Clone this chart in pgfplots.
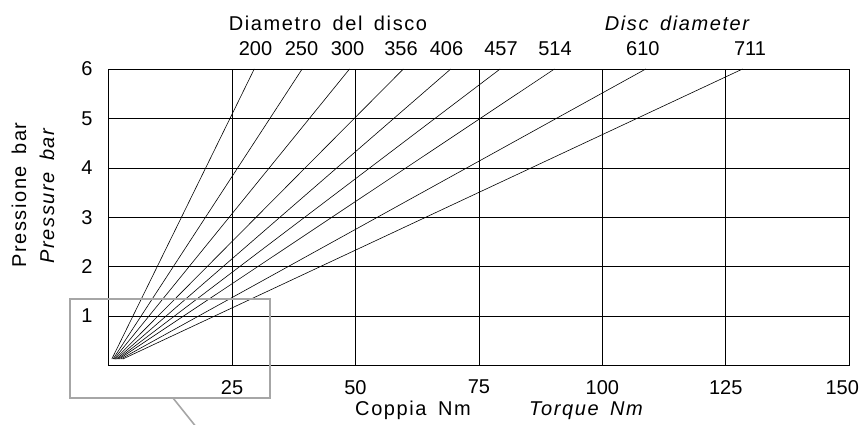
\documentclass[border=0pt]{standalone}
\usepackage{fontspec}
\setmainfont{Liberation Sans}
\newfontfamily\lab{Liberation Sans}[LetterSpace=8, WordSpace=1.6]
\usepackage{pgfplots}
\pgfplotsset{compat=1.18}

\newcommand{\fs}{\fontsize{20bp}{24bp}\selectfont}

\begin{document}
\begin{tikzpicture}
\useasboundingbox (0,0) rectangle (863bp,425bp);
\begin{axis}[
    at={(108.6bp,59.5bp)}, anchor=south west,
    scale only axis,
    width=740.6bp, height=296.5bp,
    xmin=0, xmax=150, ymin=0, ymax=6,
    xtick={25,50,75,100,125,150},
    xticklabels={25,50,75,100,125,\hspace*{-14bp}150},
    ytick={1,2,3,4,5,6},
    major tick length=0pt,
    grid=major,
    grid style={black, line width=0.6pt},
    axis line style={black, line width=0.6pt},
    tick label style={font=\fs},
    /pgf/number format/assume math mode=true,
    xticklabel style={anchor=north, inner sep=0pt, yshift=-14.5bp},
    yticklabel style={anchor=east, inner sep=0pt, xshift=-16bp},
    clip=false,
]
% diameter lines: start near origin, end at 6 bar
\addplot[black, line width=0.6pt] coordinates {(0.65,0.13) (29.5,6)};
\addplot[black, line width=0.6pt] coordinates {(0.90,0.13) (39.2,6)};
\addplot[black, line width=0.6pt] coordinates {(1.10,0.13) (48.8,6)};
\addplot[black, line width=0.6pt] coordinates {(1.35,0.13) (59.7,6)};
\addplot[black, line width=0.6pt] coordinates {(1.60,0.13) (69.3,6)};
\addplot[black, line width=0.6pt] coordinates {(1.85,0.13) (79.3,6)};
\addplot[black, line width=0.6pt] coordinates {(2.10,0.13) (90.3,6)};
\addplot[black, line width=0.6pt] coordinates {(2.45,0.13) (108.8,6)};
\addplot[black, line width=0.6pt] coordinates {(2.85,0.13) (128.4,6)};

\foreach \xx/\dd in {29.75/200,39.07/250,48.39/300,59.23/356,68.44/406,79.48/457,90.42/514,108.2/610,129.9/711}{
  \edef\tmp{\noexpand\node[font=\noexpand\fs, inner sep=0pt, anchor=center, yshift=20.5bp] at (axis cs:\xx,6) {\dd};}
  \tmp
}
\end{axis}

% titles
\node[font=\fs\lab, inner sep=0pt] at (328bp,401.5bp) {Diametro del disco};
\node[font=\fs\lab\itshape, inner sep=0pt] at (677bp,401.5bp) {Disc diameter};
\node[font=\fs\lab, inner sep=0pt, anchor=base] at (413bp,10bp) {Coppia Nm};
\node[font=\fs\lab\itshape, inner sep=0pt, anchor=base] at (586bp,10bp) {Torque Nm};
\node[font=\fs\lab, inner sep=0pt, rotate=90] at (19bp,230bp) {Pressione bar};
\node[font=\fs\lab\itshape, inner sep=0pt, rotate=90] at (47bp,229bp) {Pressure bar};

% callout frame
\draw[gray!70, line width=1.6pt] (70bp,126bp) rectangle (270bp,27bp);
\draw[gray!70, line width=1.6pt] (173bp,27bp) -- (197bp,-3bp);
\end{tikzpicture}
\end{document}
